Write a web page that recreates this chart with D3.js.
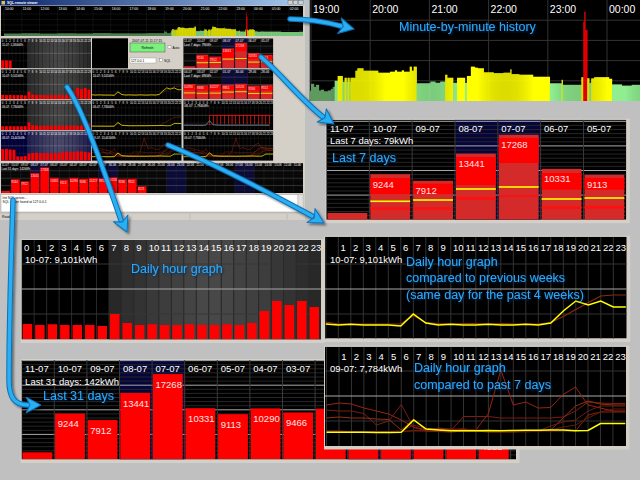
<!DOCTYPE html>
<html>
<head>
<meta charset="utf-8">
<script src="https://cdn.jsdelivr.net/npm/d3@7/dist/d3.min.js"></script>
<style>
html,body{margin:0;padding:0;background:#c0c0c0;}
svg{display:block;}
</style>
</head>
<body>
<script>
// ================= DATA =================
const hourLabels = ["0","1","2","3","4","5","6","7","8","9","10","11","12","13","14","15","16","17","18","19","20","21","22","23"];
const minuteHourLabels = ["19:00","20:00","21:00","22:00","23:00","00:00"];
const thumbHourLabels = ["10:00","11:00","12:00","13:00","14:00","15:00","16:00","17:00","18:00","19:00","20:00","21:00","22:00","23:00","00:00","01:00","02:00"];

// minute-by-minute power (W) as runs [minutes, watts, kind]; kind d=old, g=base, y=active, r=peak
const minuteRunsBefore = [[60,430,"d"],[60,480,"d"],[60,420,"d"],[60,470,"d"],[60,440,"d"],[60,520,"d"],[60,460,"d"],[60,450,"d"],[60,500,"d"]]; // 10:00-19:00
const minuteRuns = [ // from 19:00
 [3,850,"d"],[2,700,"d"],[3,800,"d"],[2,520,"d"],[3,560,"d"],[4,480,"d"],[3,520,"d"],[2,600,"d"],[2,700,"d"],
 [3,1000,"g"],[5,1240,"y"],[2,950,"g"],[2,1150,"y"],[1,950,"g"],[2,1150,"y"],[1,950,"g"],[5,1150,"y"],
 [2,1500,"y"],[6,1620,"y"],[15,1500,"y"],[12,1400,"y"],
 [5,1450,"y"],[2,1520,"y"],[5,1450,"y"],[2,1520,"y"],[6,1450,"y"],
 [2,1700,"y"],[2,1500,"y"],[3,1700,"y"],
 [14,875,"g"],[5,960,"g"],[5,900,"g"],[5,960,"g"],
 [2,1300,"y"],[6,1150,"y"],[4,900,"g"],[8,1150,"y"],[2,900,"g"],[4,1240,"y"],
 [4,1700,"y"],[3,1650,"y"],[6,1620,"y"],
 [10,1420,"y"],[10,1380,"y"],[7,1400,"y"],[1,1570,"y"],
 [8,1330,"y"],[14,1300,"y"],[17,1200,"y"],
 [12,875,"g"],[1,1050,"y"],[19,800,"g"],
 [2,1180,"y"],[1,3930,"r"],[1,4420,"r"],[2,3510,"r"],
 [2,1130,"y"],[2,900,"g"],[3,1120,"y"],[15,1180,"y"],[3,1100,"y"],
 [10,820,"g"],[10,760,"g"],[9,800,"g"]
];
const minuteRunsAfter = [[60,780,"g"],[60,720,"g"],[60,760,"g"]];

// daily totals (Wh)
const days31 = ["11-07","10-07","09-07","08-07","07-07","06-07","05-07","04-07","03-07","02-07","01-07","30-06","29-06","28-06","27-06","26-06","25-06","24-06","23-06","22-06","21-06","20-06","19-06","18-06","17-06","16-06","15-06","14-06","13-06","12-06","11-06"];
const dayTotals = [1360,9244,7912,13441,17268,10331,9113,10290,9466,10227,9851,10526,9266,9551,4521];
const weekendDays = ["08-07","07-07","01-07","30-06","24-06","23-06","17-06","16-06"];
// per-day breakdown shown in the 7-day bars (Wh levels)
const dayBandHigh   = [0,8480,7320,12740,16600,9490,8480,9520,8700,9450,9100,9750,8500,8800];
const dayBandLow    = [0,5220,5220,7050,11520,6100,6100,6100,5900,6000,6200,6600,5800,5900];
const dayYellow     = [0,3740,4000,6240,6650,4210,4410,4300,4100,4200,4900,5100,4000,4100];
const dayStripeHigh = [0,2520,2520,4610,4960,2720,2850,2700,2600,2650,3300,3400,2600,2600];
const dayStripeLow  = [0,2030,2030,4060,4610,2170,2240,2200,2100,2150,2900,3000,2100,2100];

// hourly consumption (Wh)
const hourly1107 = [530,530,520];
const hourly1007 = [300,280,295,280,280,280,260,500,320,280,295,280,280,295,280,280,295,280,320,560,760,680,760,640];
const hourly0907 = [275,275,275,275,270,270,275,520,340,320,305,305,305,310,305,310,315,315,320,320,305,310,450,450];
const hourly0807 = [780,800,760,740,300,290,310,480,520,540,510,520,530,500,520,510,600,620,580,610,640,620,600,550];
const prevWeeksAvg = [340,300,300,300,300,300,300,470,330,310,300,310,310,300,310,300,300,300,330,450,590,730,860,880];
const past7A = [820,860,840,760,700,640,520,380,320,330,340,330,320,650,1520,820,880,760,770,1030,1180,820,760,700];
const past7B = [720,700,700,650,420,500,830,370,300,300,310,590,590,590,560,560,560,560,560,580,700,880,860,850];
const past7C = [560,580,560,560,540,530,320,540,300,290,280,300,300,280,280,280,290,300,320,560,800,900,840,820];
const past7D = [300,300,290,290,290,290,300,420,350,350,320,350,300,300,300,300,300,300,400,480,520,700,800,800];
const past7E = [280,280,280,280,280,280,290,310,300,360,330,300,300,300,300,300,300,300,300,300,300,620,680,680];
const past7F = [300,300,280,280,280,280,290,300,300,300,300,310,320,300,300,300,280,300,320,380,420,560,680,740];
const daylight = [0,0,0,0,0,0,0,0.15,0.35,0.45,0.6,0.7,0.8,0.9,1,1,0.95,0.85,0.8,0.7,0.55,0.45,0.3,0.15];
const tariffLevels = [400,400,400,400,400,400,400,1000,1000,1000,1000,1000,1000,1000,1000,1000,1000,1000,1000,1000,1000,1000,1000,400];
const tempLine = [330,330,330,320,320,320,340,650,360,340,330,330,330,330,330,330,330,330,330,330,340,330,330,330];

// ================= DRAWING =================
const svg = d3.select("body").append("svg").attr("width",640).attr("height",480)
  .style("font-family","'Liberation Sans', Arial, Helvetica, sans-serif");
svg.append("rect").attr("width",640).attr("height",480).attr("fill","#c0c0c0");
const defs = svg.append("defs");
const glow = defs.append("filter").attr("id","glow").attr("x","-20%").attr("y","-60%").attr("width","140%").attr("height","220%");
glow.append("feDropShadow").attr("dx",1).attr("dy",1.2).attr("stdDeviation",1.1).attr("flood-color","#002a55").attr("flood-opacity",1);
const ash = defs.append("filter").attr("id","ash").attr("x","-30%").attr("y","-30%").attr("width","160%").attr("height","160%");
ash.append("feDropShadow").attr("dx",2).attr("dy",2).attr("stdDeviation",1.2).attr("flood-color","#000").attr("flood-opacity",0.45);
const tgr = defs.append("linearGradient").attr("id","titlebar");
tgr.append("stop").attr("offset","0").attr("stop-color","#0a246a");
tgr.append("stop").attr("offset","1").attr("stop-color","#a6caf0");

let cid = 0;
function panel(parent,x,y,w,h,fill){
  const id = "clip"+(cid++);
  defs.append("clipPath").attr("id",id).append("rect").attr("x",x).attr("y",y).attr("width",w).attr("height",h);
  const g = parent.append("g").attr("clip-path",`url(#${id})`);
  g.append("rect").attr("x",x).attr("y",y).attr("width",w).attr("height",h).attr("fill",fill||"#000");
  return g;
}
function frame(parent,x,y,w,h){
  parent.append("rect").attr("x",x-1).attr("y",y-1).attr("width",w+4.5).attr("height",h+4.5).attr("fill","#d4d0c8");
}
function expandRuns(runs,start){
  const out=[]; let m=start;
  runs.forEach(([n,v,k])=>{ for(let i=0;i<n;i++) out.push({m:m++,v:v,k:k}); });
  return out;
}
const mainStart = 540;
const minutesAll = [].concat(
  expandRuns(minuteRunsBefore,0),
  expandRuns(minuteRuns,mainStart),
  expandRuns(minuteRunsAfter,mainStart+d3.sum(minuteRuns,r=>r[0])));
const kindColor = {d:"#5f9a5f", g:"#90ee90", y:"#ffff00", r:"#ff0000"};

function drawMinute(parent,o){
  const g = panel(parent,o.x,o.y,o.w,o.h);
  const xs = d3.scaleLinear().domain([o.m0,o.m0+60]).range([o.x0,o.x0+o.hourPx]);
  const ys = d3.scaleLinear().domain([0,1000]).range([o.base,o.base-o.px1000]);
  g.selectAll(null).data([1000,2000,3000,4000]).join("line")
    .attr("x1",o.x).attr("x2",o.x+o.w).attr("y1",d=>ys(d)).attr("y2",d=>ys(d))
    .attr("stroke","#333").attr("stroke-width",o.gw);
  g.selectAll(null).data(o.labels).join("line")
    .attr("x1",(d,i)=>xs(o.m0+60*i)).attr("x2",(d,i)=>xs(o.m0+60*i)).attr("y1",o.y).attr("y2",o.base)
    .attr("stroke","#333").attr("stroke-width",o.gw);
  const pw = xs(1)-xs(0);
  g.selectAll(null).data(minutesAll.filter(d=>xs(d.m)>=o.x-2 && xs(d.m)<=o.x+o.w)).join("rect")
    .attr("x",d=>xs(d.m)).attr("width",pw+o.overlap)
    .attr("y",d=>ys(d.v)).attr("height",d=>o.base-ys(d.v)).attr("fill",d=>kindColor[d.k]);
  g.selectAll(null).data(o.labels).join("text")
    .attr("x",(d,i)=>xs(o.m0+60*i)+o.ldx).attr("y",o.ly).text(d=>d)
    .attr("fill","#fff").attr("font-size",o.fs);
}

function drawHourBars(parent,o){
  const g = panel(parent,o.x,o.y,o.w,o.h,o.navy?"#00003c":"#000");
  const xs = d3.scaleBand().domain(hourLabels).range([o.x,o.x+o.w]);
  const cw = xs.bandwidth();
  const ys = d3.scaleLinear().domain([0,1000]).range([o.bottom,o.bottom-o.px1000]);
  const shade = o.navy ? d3.interpolateRgb("#16164c","#4a4a6c") : d3.interpolateRgb("#222222","#484848");
  g.selectAll(null).data(hourLabels.filter((d,i)=>daylight[i]>0)).join("rect")
    .attr("x",d=>xs(d)).attr("y",o.y).attr("width",cw).attr("height",o.h)
    .attr("fill",d=>shade(daylight[+d]));
  g.selectAll(null).data(hourLabels).join("line")
    .attr("x1",d=>xs(d)).attr("x2",d=>xs(d)).attr("y1",o.y).attr("y2",o.bottom)
    .attr("stroke","#2a2a2a").attr("stroke-width",o.gw);
  g.selectAll(null).data([500,1000,1500]).join("line")
    .attr("x1",o.x).attr("x2",o.x+o.w).attr("y1",d=>ys(d)).attr("y2",d=>ys(d))
    .attr("stroke",d=>d===1000?"#a8a8a8":"#363636").attr("stroke-width",o.gw);
  g.selectAll(null).data(o.values).join("rect")
    .attr("x",(d,i)=>xs(hourLabels[i])+cw*0.08).attr("width",cw*0.76)
    .attr("y",d=>ys(d)).attr("height",d=>o.bottom-ys(d)).attr("fill","#ff0000");
  g.selectAll(null).data(hourLabels).join("text")
    .attr("x",d=>xs(d)+cw*0.18).attr("y",o.labelY).text(d=>d)
    .attr("fill","#fff").attr("font-size",o.fs);
  g.append("text").attr("x",o.x+o.fs*0.35).attr("y",o.titleY).text(o.title)
    .attr("fill","#fff").attr("font-size",o.fs);
}

function drawHourLines(parent,o){
  const g = panel(parent,o.x,o.y,o.w,o.h);
  const xs = d3.scaleBand().domain(hourLabels).range([o.col0,o.col0+24*o.cw]);
  const xend = o.col0+24*o.cw;
  const ys = d3.scaleLinear().domain([0,1000]).range([o.bottom,o.bottom-o.px1000]);
  g.selectAll(null).data(hourLabels).join("line")
    .attr("x1",d=>xs(d)).attr("x2",d=>xs(d)).attr("y1",o.y).attr("y2",o.bottom)
    .attr("stroke","#333").attr("stroke-width",o.gw);
  g.selectAll(null).data([500,1000,1500]).join("line")
    .attr("x1",o.x).attr("x2",o.x+o.w).attr("y1",d=>ys(d)).attr("y2",d=>ys(d))
    .attr("stroke",d=>d===1000?"#a8a8a8":"#333").attr("stroke-width",o.gw);
  g.selectAll(null).data(hourLabels.filter(d=>!(o.skipFirst && d==="0"))).join("text")
    .attr("x",d=>xs(d)+o.cw*0.18).attr("y",o.labelY).text(d=>d)
    .attr("fill","#fff").attr("font-size",o.fs);
  g.append("text").attr("x",o.x+o.titleDx).attr("y",o.titleY).text(o.title)
    .attr("fill","#fff").attr("font-size",o.fs);
  const line = d3.line().x((d,i)=> i<24 ? xs(hourLabels[i]) : xend).y(d=>ys(d));
  o.others.forEach((s,j)=>{
    g.append("path").datum(s.concat([s[s.length-1]])).attr("d",line)
      .attr("fill","none").attr("stroke",o.colors[j]).attr("stroke-width",o.lw);
  });
  g.append("path").datum(o.main.concat([o.main[o.main.length-1]])).attr("d",line)
    .attr("fill","none").attr("stroke","#ffff00").attr("stroke-width",o.ylw);
}

function drawDayBars(parent,o){
  const g = panel(parent,o.x,o.y,o.w,o.h);
  const xs = d3.scaleBand().domain(o.days).range([o.x,o.x+o.days.length*o.cw]);
  const ys = d3.scaleLinear().domain([0,1000]).range([o.bottom,o.bottom-o.px1000]);
  const inView = d=> xs(d) < o.x+o.w;                       // column starts inside the panel
  const unhidden = d=> xs(d)+o.cw <= (o.hideX||Infinity);   // column not covered by an overlapping panel
  const days = o.days.filter(inView);
  g.selectAll(null).data(days.filter(d=>weekendDays.includes(d))).join("rect")
    .attr("x",d=>xs(d)).attr("y",o.y).attr("width",o.cw).attr("height",o.h).attr("fill","#05053c");
  const steps = d3.range(1,25);
  g.selectAll(null).data(steps).join("line")
    .attr("x1",o.x).attr("x2",o.x+o.w)
    .attr("y1",k=>ys(k*5000/6)).attr("y2",k=>ys(k*5000/6))
    .attr("stroke",k=>k%6===0?"#a8a8a8":"#262626").attr("stroke-width",o.gw);
  g.selectAll(null).data(days).join("line")
    .attr("x1",d=>xs(d)).attr("x2",d=>xs(d)).attr("y1",o.y).attr("y2",o.bottom)
    .attr("stroke","#3a3a3a").attr("stroke-width",o.gw);
  const bw = o.cw-o.bx-o.bgap;
  const bars = o.totals.map((v,i)=>({day:o.days[i],v:v,i:i})).filter(d=>inView(d.day));
  g.selectAll(null).data(bars).join("rect")
    .attr("x",d=>xs(d.day)+o.bx).attr("width",bw)
    .attr("y",d=>ys(d.v)).attr("height",d=>o.bottom-ys(d.v))
    .attr("fill",o.details?"#d42a2a":"#ff0000");
  if(o.details){
    const det = bars.filter(d=>dayBandHigh[o.off+d.i]>0);
    g.selectAll(null).data(det).join("rect")
      .attr("x",d=>xs(d.day)+o.bx).attr("width",bw)
      .attr("y",d=>ys(dayBandHigh[o.off+d.i])).attr("height",d=>ys(dayBandLow[o.off+d.i])-ys(dayBandHigh[o.off+d.i]))
      .attr("fill","#ff0000");
    g.selectAll(null).data(det).join("rect")
      .attr("x",d=>xs(d.day)+o.bx).attr("width",bw)
      .attr("y",d=>ys(dayStripeHigh[o.off+d.i])).attr("height",d=>ys(dayStripeLow[o.off+d.i])-ys(dayStripeHigh[o.off+d.i]))
      .attr("fill","#ff1010");
    g.selectAll(null).data(det).join("rect")
      .attr("x",d=>xs(d.day)+o.bx).attr("width",bw)
      .attr("y",d=>ys(dayYellow[o.off+d.i])-o.ylw/2).attr("height",o.ylw)
      .attr("fill","#ffff00");
  }
  g.selectAll(null).data(bars.filter(d=>o.bottom-ys(d.v)>o.minLabelH && (unhidden(d.day) || ys(d.v)+o.valueDy > (o.hideY||Infinity)))).join("text")
    .attr("x",d=>xs(d.day)+o.tdx).attr("y",d=>ys(d.v)+o.valueDy).text(d=>d.v)
    .attr("fill","#ffe4e4").attr("font-size",o.fs);
  g.selectAll(null).data(days.filter(unhidden)).join("text")
    .attr("x",d=>xs(d)+o.tdx).attr("y",o.labelY).text(d=>d)
    .attr("fill","#fff").attr("font-size",o.fs);
  g.append("text").attr("x",o.x+o.tdx).attr("y",o.titleY).text(o.title)
    .attr("fill","#fff").attr("font-size",o.fs);
}

function drawTariff(parent,o){
  const g = panel(parent,o.x,o.y,o.w,o.h);
  const xs = d3.scaleBand().domain(hourLabels).range([o.x,o.x+o.w]);
  const ys = d3.scaleLinear().domain([0,1000]).range([o.bottom,o.bottom-o.px1000]);
  g.selectAll(null).data(hourLabels).join("line")
    .attr("x1",d=>xs(d)).attr("x2",d=>xs(d)).attr("y1",o.y).attr("y2",o.bottom)
    .attr("stroke","#333").attr("stroke-width",0.3);
  g.selectAll(null).data([500,1000,1500]).join("line")
    .attr("x1",o.x).attr("x2",o.x+o.w).attr("y1",d=>ys(d)).attr("y2",d=>ys(d))
    .attr("stroke",d=>d===1000?"#a8a8a8":"#333").attr("stroke-width",0.3);
  g.selectAll(null).data(hourLabels.filter((d,i)=>tariffLevels[i]>500)).join("rect")
    .attr("x",d=>xs(d)).attr("width",xs.bandwidth()).attr("y",ys(1000)).attr("height",ys(400)-ys(1000))
    .attr("fill","none").attr("stroke","#e01010").attr("stroke-width",0.5);
  g.append("path").datum(tariffLevels).attr("d",d3.line().x((d,i)=>xs(hourLabels[i])).y(d=>ys(d)).curve(d3.curveStepAfter))
    .attr("fill","none").attr("stroke","#e01010").attr("stroke-width",0.6);
  g.append("path").datum(tempLine).attr("d",d3.line().x((d,i)=>xs(hourLabels[i])).y(d=>ys(d)))
    .attr("fill","none").attr("stroke","#20c0d0").attr("stroke-width",0.7);
  g.selectAll(null).data(hourLabels).join("text")
    .attr("x",d=>xs(d)+0.6).attr("y",o.y+3.5).text(d=>d).attr("fill","#fff").attr("font-size",2.8);
  g.append("text").attr("x",o.x+1).attr("y",o.y+7).text(o.title).attr("fill","#fff").attr("font-size",3.2);
}

const pastColors = ["#9a2410","#7e1c12","#962e16","#6a1e0c","#84240c","#5e1a0a"];
const past7 = [past7A,past7B,past7C,past7D,past7E,past7F];

// ---------- thumbnail of the application window ----------
const T = svg.append("g");
T.append("rect").attr("x",0).attr("y",0).attr("width",305).attr("height",220).attr("fill","#d4d0c8");
T.append("rect").attr("x",0).attr("y",0).attr("width",305).attr("height",5.5).attr("fill","url(#titlebar)");
T.append("rect").attr("x",1.5).attr("y",1).attr("width",3.5).attr("height",3.5).attr("fill","#e8c040");
T.append("text").attr("x",7).attr("y",4).text("SQL remote viewer").attr("fill","#fff").attr("font-size",3.4).attr("font-weight","bold");
T.selectAll(null).data(["_","□","x"]).join("rect")
  .attr("x",(d,i)=>288+i*5.3).attr("y",0.8).attr("width",4.5).attr("height",4).attr("fill","#d4d0c8").attr("stroke","#404040").attr("stroke-width",0.3);

drawMinute(T,{x:1,y:6,w:302,h:30,x0:4,m0:0,hourPx:17.8,base:36,px1000:5.5,fs:3.4,ly:10,ldx:1,overlap:0.12,gw:0.3,labels:thumbHourLabels});

const thumbCommon = {w:90,h:30,px1000:15,fs:2.8,gw:0.3};
drawHourBars(T,Object.assign({},thumbCommon,{x:1,y:38.3,bottom:68.3,labelY:41.8,titleY:45.5,values:hourly1107,title:"11-07: 1,580kWh"}));
drawHourBars(T,Object.assign({},thumbCommon,{x:1,y:69.3,bottom:99.3,labelY:72.8,titleY:76.5,values:hourly1007,title:"10-07: 9,101kWh"}));
drawHourBars(T,Object.assign({},thumbCommon,{x:1,y:100.3,bottom:130.3,labelY:103.8,titleY:107.5,values:hourly0907,title:"09-07: 7,784kWh"}));
drawHourBars(T,Object.assign({},thumbCommon,{x:1,y:131.3,h:29.5,bottom:160.8,labelY:134.8,titleY:138.5,values:hourly0807,title:"08-07: 13,441kWh",navy:true}));

// controls
T.append("rect").attr("x",92).attr("y",38.3).attr("width",36).attr("height",30).attr("fill","#000");
T.append("text").attr("x",132).attr("y",41.5).text("2007-07-11 11:17:15").attr("font-size",3.3).attr("fill","#000");
T.append("rect").attr("x",130).attr("y",43).attr("width",35).attr("height",9).attr("fill","#7cf07c").attr("stroke","#333").attr("stroke-width",0.4);
T.append("text").attr("x",147.5).attr("y",48.8).attr("text-anchor","middle").text("Refresh").attr("font-size",3.4).attr("fill","#000");
T.append("rect").attr("x",168).attr("y",45.5).attr("width",3).attr("height",3).attr("fill","#fff").attr("stroke","#555").attr("stroke-width",0.3);
T.append("text").attr("x",172.5).attr("y",48.5).text("Auto").attr("font-size",3.3).attr("fill","#000");
T.append("rect").attr("x",130).attr("y",58).attr("width",26).attr("height",5).attr("fill","#fff").attr("stroke","#777").attr("stroke-width",0.3);
T.append("text").attr("x",131).attr("y",61.8).text("127.0.0.1").attr("font-size",3.2).attr("fill","#000");
T.append("rect").attr("x",159.5).attr("y",58.5).attr("width",3).attr("height",3).attr("fill","#fff").attr("stroke","#555").attr("stroke-width",0.3);
T.append("text").attr("x",164).attr("y",61.5).text("SQL").attr("font-size",3.3).attr("fill","#000");

const lineThumb = {x:91.7,w:90,h:30,col0:91.7,cw:3.75,px1000:15,fs:2.8,gw:0.3,titleDx:1,lw:0.5,ylw:0.7};
drawHourLines(T,Object.assign({},lineThumb,{y:69.3,bottom:99.3,labelY:72.8,titleY:76.5,title:"10-07: 9,101kWh",main:hourly1007,others:[prevWeeksAvg],colors:["#8b2a10"]}));
drawHourLines(T,Object.assign({},lineThumb,{y:100.3,bottom:130.3,labelY:103.8,titleY:107.5,title:"09-07: 7,784kWh",main:hourly0907,others:[prevWeeksAvg],colors:["#8b2a10"]}));
drawHourLines(T,Object.assign({},lineThumb,{y:131.3,h:29.5,bottom:160.8,labelY:134.8,titleY:138.5,title:"08-07: 13,441kWh",main:hourly0907,others:past7,colors:pastColors}));

const dayThumb = {x:183.3,w:90,h:30,cw:12.86,px1000:1.48,fs:3.1,gw:0.3,bx:0.4,bgap:0.8,tdx:0.8,valueDy:4,minLabelH:5,ylw:0.8,details:true};
drawDayBars(T,Object.assign({},dayThumb,{y:38.3,bottom:68.3,labelY:41.8,titleY:45.5,days:days31.slice(0,7),totals:dayTotals.slice(0,7),off:0,title:"Last 7 days: 79kWh"}));
drawDayBars(T,Object.assign({},dayThumb,{y:69.3,bottom:99.3,labelY:72.8,titleY:76.5,days:days31.slice(7,14),totals:dayTotals.slice(7,14),off:7,title:"Last 7 days: 69kWh"}));
drawTariff(T,{x:183.3,y:100.3,w:90,h:30,bottom:130.3,px1000:15,title:"08-07: 1,784kWh"});
drawHourLines(T,Object.assign({},lineThumb,{x:183.3,col0:183.3,y:131.3,h:29.5,bottom:160.8,labelY:134.8,titleY:138.5,title:"09-07: 7,784kWh",main:hourly0907,others:past7,colors:pastColors}));

drawDayBars(T,{x:1,y:163,w:302,h:30,cw:9.74,bottom:193,px1000:1.48,fs:2.9,gw:0.3,bx:0.4,bgap:0.7,tdx:0.6,valueDy:4,minLabelH:5,
  labelY:166.3,titleY:170,days:days31,totals:dayTotals,title:"Last 31 days: 142kWh"});

T.append("rect").attr("x",1).attr("y",194.5).attr("width",297).attr("height",17.5).attr("fill","#fff").attr("stroke","#888").attr("stroke-width",0.4);
T.append("rect").attr("x",298).attr("y",194.5).attr("width",5).attr("height",17.5).attr("fill","#e4e1dc").attr("stroke","#999").attr("stroke-width",0.3);
T.append("text").attr("x",2.5).attr("y",198.5).text("Init SQL server...").attr("font-size",3.3).attr("fill","#000");
T.append("text").attr("x",2.5).attr("y",202.5).text("SQL server found at 127.0.0.1").attr("font-size",3.3).attr("fill","#000");
T.append("line").attr("x1",0).attr("x2",305).attr("y1",213).attr("y2",213).attr("stroke","#a0a0a0").attr("stroke-width",0.4);
T.append("text").attr("x",2).attr("y",218.3).text("Ready").attr("font-size",3.3).attr("fill","#000");
T.selectAll(null).data([190,287]).join("line").attr("x1",d=>d).attr("x2",d=>d).attr("y1",214).attr("y2",219.5).attr("stroke","#999").attr("stroke-width",0.4);

// ---------- enlarged panels ----------
drawMinute(svg,{x:309.5,y:0,w:330.5,h:101,x0:311,m0:mainStart,hourPx:59.2,base:101,px1000:20.2,fs:10.5,ly:13,ldx:2,overlap:0.25,gw:1,labels:minuteHourLabels});

frame(svg,326.5,119.7,299.8,100);
drawDayBars(svg,{x:326.5,y:119.7,w:299.8,h:100,cw:42.83,bottom:219.7,px1000:4.92,fs:9.5,gw:1,bx:1,bgap:2,tdx:3.4,valueDy:13.5,minLabelH:14,
  labelY:131.5,titleY:144,days:days31.slice(0,7),totals:dayTotals.slice(0,7),details:true,off:0,ylw:1.6,title:"Last 7 days: 79kWh"});

frame(svg,21.7,240,299.3,99.5);
drawHourBars(svg,{x:21.7,y:240,w:299.3,h:99.5,bottom:339,px1000:50,fs:9.5,gw:1,labelY:251.2,titleY:263.3,values:hourly1007,title:"10-07: 9,101kWh"});

frame(svg,325,236.7,301.7,101.8);
drawHourLines(svg,{x:325,y:236.7,w:301.7,h:101.8,col0:325.8,cw:12.5,bottom:339,px1000:50,fs:9.5,gw:1,titleDx:5,lw:1.2,ylw:1.5,skipFirst:true,
  labelY:251.3,titleY:262.5,title:"10-07: 9,101kWh",main:hourly1007,others:[prevWeeksAvg],colors:["#8b2a10"]});

frame(svg,21.7,360,494.3,99.5);
drawDayBars(svg,{x:21.7,y:360,w:494.3,h:99.5,cw:32.6,bottom:459,px1000:4.92,fs:9.5,gw:1,bx:0.8,bgap:2,tdx:3.4,valueDy:13.7,minLabelH:14,
  hideX:325,hideY:447,
  labelY:371.8,titleY:384.5,days:days31,totals:dayTotals,title:"Last 31 days: 142kWh"});

frame(svg,325,346.7,301,99.3);
drawHourLines(svg,{x:325,y:346.7,w:301,h:99.3,col0:326.55,cw:12.45,bottom:446,px1000:50,fs:9.5,gw:1,titleDx:5,lw:1,ylw:1.5,skipFirst:true,
  labelY:359.5,titleY:371.8,title:"09-07: 7,784kWh",main:hourly0907,others:past7,colors:pastColors});

// ---------- annotations ----------
const notes = [
  {x:399, y:31, t:"Minute-by-minute history"},
  {x:332, y:161.5, t:"Last 7 days"},
  {x:131, y:273.3, t:"Daily hour graph"},
  {x:406, y:265.7, t:"Daily hour graph"},
  {x:406, y:282, t:"compared to previous weeks"},
  {x:406, y:299, t:"(same day for the past 4 weeks)"},
  {x:43, y:400, t:"Last 31 days"},
  {x:414, y:372, t:"Daily hour graph"},
  {x:414, y:389, t:"compared to past 7 days"}
];
svg.append("g").selectAll(null).data(notes).join("text")
  .attr("x",d=>d.x).attr("y",d=>d.y).text(d=>d.t)
  .attr("font-size",12.5).attr("fill","#2aa8ff").attr("filter","url(#glow)");

const arrows = [
  {d:"M290,19 C306,19 322,21 341,26", tip:[354,29], ang:13},
  {d:"M261,57 C281,74 300,99 323,117", tip:[334,124], ang:35},
  {d:"M67,87 C82,108 102,165 121,220", tip:[127,232], ang:65},
  {d:"M168,145 C205,160 255,185 312,216", tip:[324,223], ang:30},
  {d:"M13,200 C11,260 9,330 9,380 C9,398 15,405 28,405", tip:[41,405], ang:0}
];
const AG = svg.append("g").attr("filter","url(#ash)");
arrows.forEach(a=>{
  AG.append("path").attr("d",a.d).attr("fill","none").attr("stroke","#0d70b8").attr("stroke-width",5.5).attr("stroke-linecap","round");
  AG.append("path").attr("d",a.d).attr("fill","none").attr("stroke","#2cb0f2").attr("stroke-width",3.5).attr("stroke-linecap","round");
  AG.append("path").attr("d","M0,0 L-15,-8 L-11,0 L-15,8 Z")
    .attr("transform",`translate(${a.tip[0]},${a.tip[1]}) rotate(${a.ang})`)
    .attr("fill","#2cb0f2").attr("stroke","#0d70b8").attr("stroke-width",1).attr("stroke-linejoin","round");
});
</script>
</body>
</html>
